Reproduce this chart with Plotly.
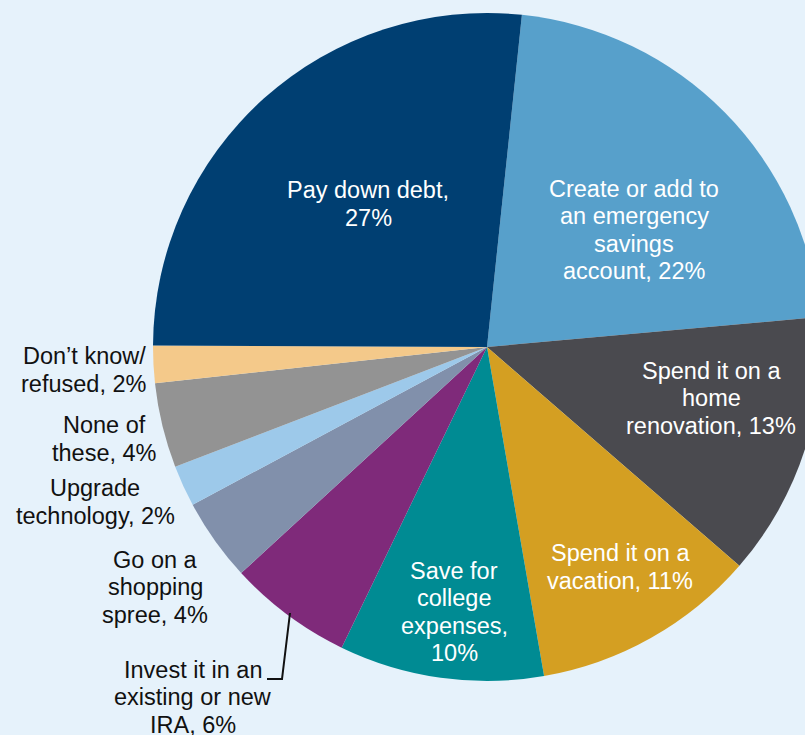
import plotly.graph_objects as go

# ---- data ----
categories = [
    "Create or add to an emergency savings account",
    "Spend it on a home renovation",
    "Spend it on a vacation",
    "Save for college expenses",
    "Invest it in an existing or new IRA",
    "Go on a shopping spree",
    "Upgrade technology",
    "None of these",
    "Don’t know/refused",
    "Pay down debt",
]
values = [21.9, 12.8, 10.9, 9.9, 6.0, 4.0, 2.0, 4.1, 1.8, 26.6]
shown_pct = ["22%", "13%", "11%", "10%", "6%", "4%", "2%", "4%", "2%", "27%"]
colors = ["#57a0cb", "#4a4a4f", "#d49f22", "#008b93", "#7f2a7a",
          "#8190ab", "#9dc9ea", "#939393", "#f4c98a", "#003f72"]

# label lines (text) for each category
label_lines = [
    ["Create or add to", "an emergency", "savings", "account, " + shown_pct[0]],
    ["Spend it on a", "home", "renovation, " + shown_pct[1]],
    ["Spend it on a", "vacation, " + shown_pct[2]],
    ["Save for", "college", "expenses,", shown_pct[3]],
    ["Invest it in an", "existing or new", "IRA, " + shown_pct[4]],
    ["Go on a", "shopping", "spree, " + shown_pct[5]],
    ["Upgrade", "technology, " + shown_pct[6]],
    ["None of", "these, " + shown_pct[7]],
    ["Don’t know/", "refused, " + shown_pct[8]],
    ["Pay down debt,", shown_pct[9]],
]
# label centre (pixels) and text colour
label_pos = [(634, 230), (711, 398), (620, 567), (454, 612), (193, 697),
             (155, 587), (95, 502), (105, 439), (84, 370), (368, 204)]
label_inside = [True, True, True, True, False, False, False, False, False, True]

W, H = 830, 735
CX, CY, R = 487, 347, 334
LINE = 27.5
FONT = "Arial, Liberation Sans, sans-serif"

def px(x):
    return x / W

def py(y):
    return 1 - y / H

fig = go.Figure(go.Pie(
    labels=categories,
    values=values,
    marker=dict(colors=colors, line=dict(width=0)),
    sort=False,
    direction="clockwise",
    rotation=6,
    textinfo="none",
    hoverinfo="label+percent",
    showlegend=False,
    domain=dict(x=[px(CX - R), px(CX + R)], y=[py(CY + R), py(CY - R)]),
))

annotations = []
for lines, (x, y), inside in zip(label_lines, label_pos, label_inside):
    n = len(lines)
    for i, t in enumerate(lines):
        ly = y + (i - (n - 1) / 2) * LINE
        annotations.append(dict(
            x=px(x), y=py(ly), xref="paper", yref="paper",
            text=t, showarrow=False, xanchor="center", yanchor="middle",
            font=dict(family=FONT, size=23.5,
                      color="#ffffff" if inside else "#111111"),
        ))

leader = [(290, 613), (282, 679), (267, 679)]
path = "M " + " L ".join(f"{px(x)},{py(y)}" for x, y in leader)

fig.update_layout(
    width=W, height=H,
    margin=dict(l=0, r=0, t=0, b=0),
    paper_bgcolor="#e6f2fb",
    plot_bgcolor="#e6f2fb",
    annotations=annotations,
    shapes=[dict(type="path", xref="paper", yref="paper", path=path,
                 line=dict(color="#111111", width=2))],
)

fig.write_html(
    "out.html",
    post_script="document.body.style.margin='0';document.body.style.overflow='hidden';",
)
